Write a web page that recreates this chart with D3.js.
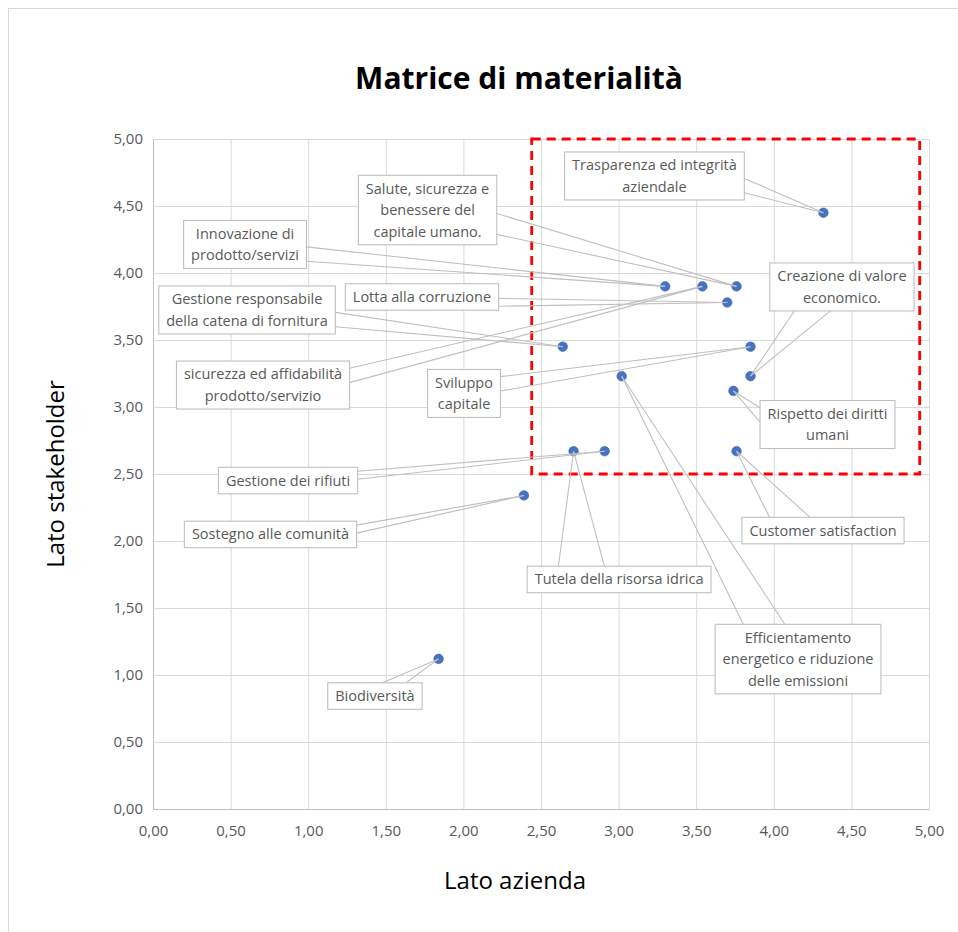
<!DOCTYPE html>
<meta charset="utf-8">
<script src="https://d3js.org/d3.v7.min.js"></script>
<style>
  body { margin: 0; background: #fff; }
  text { font-family: "Open Sans", "Noto Sans", sans-serif; }
</style>
<div id="my_dataviz"></div>
<script>
// topics of the materiality matrix
var topics = [
  "Trasparenza ed integrità\naziendale",
  "Salute, sicurezza e\nbenessere del\ncapitale umano.",
  "Innovazione di\nprodotto/servizi",
  "sicurezza ed affidabilità\nprodotto/servizio",
  "Lotta alla corruzione",
  "Gestione responsabile\ndella catena di fornitura",
  "Sviluppo\ncapitale",
  "Creazione di valore\neconomico.",
  "Rispetto dei diritti\numani",
  "Efficientamento\nenergetico e riduzione\ndelle emissioni",
  "Gestione dei rifiuti",
  "Tutela della risorsa idrica",
  "Customer satisfaction",
  "Sostegno alle comunità",
  "Biodiversità"
];
// x = Lato azienda, y = Lato stakeholder
var latoAzienda     = [4.32, 3.76, 3.30, 3.54, 3.70, 2.64, 3.85, 3.85, 3.74, 3.02, 2.91, 2.71, 3.76, 2.39, 1.84];
var latoStakeholder = [4.45, 3.90, 3.90, 3.90, 3.78, 3.45, 3.45, 3.23, 3.12, 3.23, 2.67, 2.67, 2.67, 2.34, 1.12];
var tickValues = [0, 0.5, 1, 1.5, 2, 2.5, 3, 3.5, 4, 4.5, 5];
// the red "material topics" area
var materialX = [2.44, 4.94];
var materialY = [2.5, 5.0];

// where the callout boxes sit (centre, in axis units)
var calloutX = [3.231, 1.769, 0.593, 0.709, 1.733, 0.606, 2.004, 4.439, 4.346, 4.156, 0.870, 3.003, 4.317, 0.757, 1.430];
var calloutY = [4.724, 4.470, 4.213, 3.164, 3.821, 3.724, 3.101, 3.896, 2.869, 1.119, 2.451, 1.713, 2.078, 2.049, 0.843];

var margin = {top: 139, right: 29, bottom: 123, left: 153},
    width = 958 - margin.left - margin.right,
    height = 932 - margin.top - margin.bottom;

var root = d3.select("#my_dataviz")
  .append("svg")
    .attr("width", 958)
    .attr("height", 932);

// chart border (only left and top visible)
root.append("rect")
  .attr("x", 8.5).attr("y", 8.5)
  .attr("width", 1000).attr("height", 1000)
  .attr("fill", "none")
  .attr("stroke", "#d9d9d9");

var svg = root.append("g")
  .attr("transform", "translate(" + margin.left + "," + margin.top + ")");

var it = d3.formatLocale({decimal: ",", thousands: ".", grouping: [3], currency: ["", "€"]});
var fmt = it.format(".2f");

var x = d3.scaleLinear().domain([0, 5]).range([0, width]);
var y = d3.scaleLinear().domain([0, 5]).range([height, 0]);

// gridlines
svg.append("g")
  .call(d3.axisBottom(x).tickValues(tickValues).tickSize(-height).tickFormat(""))
  .attr("transform", "translate(0," + height + ")")
  .call(function(g) { g.select(".domain").remove(); })
  .selectAll("line").attr("stroke", "#d9d9d9");
svg.append("g")
  .call(d3.axisLeft(y).tickValues(tickValues).tickSize(-width).tickFormat(""))
  .call(function(g) { g.select(".domain").remove(); })
  .selectAll("line").attr("stroke", "#d9d9d9");

// axes
var xAxis = svg.append("g")
  .attr("transform", "translate(0," + height + ")")
  .call(d3.axisBottom(x).tickValues(tickValues).tickSize(0).tickPadding(16).tickFormat(fmt));
var yAxis = svg.append("g")
  .call(d3.axisLeft(y).tickValues(tickValues).tickSize(0).tickPadding(10).tickFormat(fmt));
[xAxis, yAxis].forEach(function(a) {
  a.select(".domain").attr("stroke", "#bfbfbf");
  a.selectAll("text")
    .style("font-family", "'Open Sans', sans-serif")
    .style("font-size", "15px")
    .attr("fill", "#595959");
});

// red dashed area
svg.append("rect")
  .attr("x", x(materialX[0]))
  .attr("y", y(materialY[1]))
  .attr("width", x(materialX[1]) - x(materialX[0]))
  .attr("height", y(materialY[0]) - y(materialY[1]))
  .attr("fill", "none")
  .attr("stroke", "#ff0000")
  .attr("stroke-width", 2.8)
  .attr("stroke-dasharray", "9,6");

// title and axis titles
root.append("text")
  .attr("x", 519).attr("y", 89)
  .attr("text-anchor", "middle")
  .style("font-size", "30px")
  .style("font-weight", "bold")
  .attr("fill", "#000")
  .text("Matrice di materialità");
root.append("text")
  .attr("x", 515).attr("y", 889)
  .attr("text-anchor", "middle")
  .style("font-size", "24px")
  .attr("fill", "#000")
  .text("Lato azienda");
root.append("text")
  .attr("transform", "translate(64," + 474 + ") rotate(-90)")
  .attr("text-anchor", "middle")
  .style("font-size", "24px")
  .attr("fill", "#000")
  .text("Lato stakeholder");

var dataReady = topics.map(function(t, i) {
  return {name: t, lines: t.split("\n"), az: latoAzienda[i], st: latoStakeholder[i],
          cx: x(calloutX[i]), cy: y(calloutY[i]), px: x(latoAzienda[i]), py: y(latoStakeholder[i])};
});

// points
svg.append("g")
  .selectAll("circle")
  .data(dataReady)
  .enter()
  .append("circle")
    .attr("cx", function(d) { return d.px; })
    .attr("cy", function(d) { return d.py; })
    .attr("r", 4.8)
    .attr("fill", "#4472c4")
    .attr("stroke", "#41689f")
    .attr("stroke-width", 0.6);

// callouts: measure text first
var lineH = 21.5;
var callouts = svg.append("g");
var boxes = dataReady.map(function(d) {
  var g = callouts.append("g");
  var txt = g.append("text")
    .attr("text-anchor", "middle")
    .style("font-size", "14.5px")
    .attr("fill", "#595959");
  d.lines.forEach(function(l, k) {
    txt.append("tspan")
      .attr("x", d.cx)
      .attr("y", d.cy + (k - (d.lines.length - 1) / 2) * lineH + 5)
      .text(l);
  });
  var w = d3.max(txt.selectAll("tspan").nodes(), function(n) { return n.getComputedTextLength(); }) + 15;
  var h = d.lines.length * lineH + 5;
  return {g: g, d: d, x0: d.cx - w / 2, x1: d.cx + w / 2, y0: d.cy - h / 2, y1: d.cy + h / 2, w: w, h: h};
});

// leader lines (two-sided wedge from box edge to the point)
var leaders = svg.insert("g", function() { return callouts.node(); });
boxes.forEach(function(b) {
  var d = b.d;
  var dx = Math.max(b.x0 - d.px, d.px - b.x1, 0);
  var dy = Math.max(b.y0 - d.py, d.py - b.y1, 0);
  var base;
  if (dx >= dy) {
    var ex = d.px > b.x1 ? b.x1 : b.x0;
    var f = d.py > d.cy ? [0.55, 0.85] : [0.45, 0.15];
    base = [[ex, b.y0 + f[0] * b.h], [ex, b.y0 + f[1] * b.h]];
  } else {
    var ey = d.py < b.y0 ? b.y0 : b.y1;
    var f2 = d.px < d.cx ? [0.17, 0.42] : [0.83, 0.58];
    base = [[b.x0 + f2[0] * b.w, ey], [b.x0 + f2[1] * b.w, ey]];
  }
  base.forEach(function(p) {
    leaders.append("line")
      .attr("x1", p[0]).attr("y1", p[1])
      .attr("x2", d.px).attr("y2", d.py)
      .attr("stroke", "#bfbfbf")
      .attr("stroke-width", 1.1);
  });
  b.g.insert("rect", "text")
    .attr("x", b.x0).attr("y", b.y0)
    .attr("width", b.w).attr("height", b.h)
    .attr("fill", "#fff")
    .attr("stroke", "#bfbfbf")
    .attr("stroke-width", 1.1);
});
</script>
